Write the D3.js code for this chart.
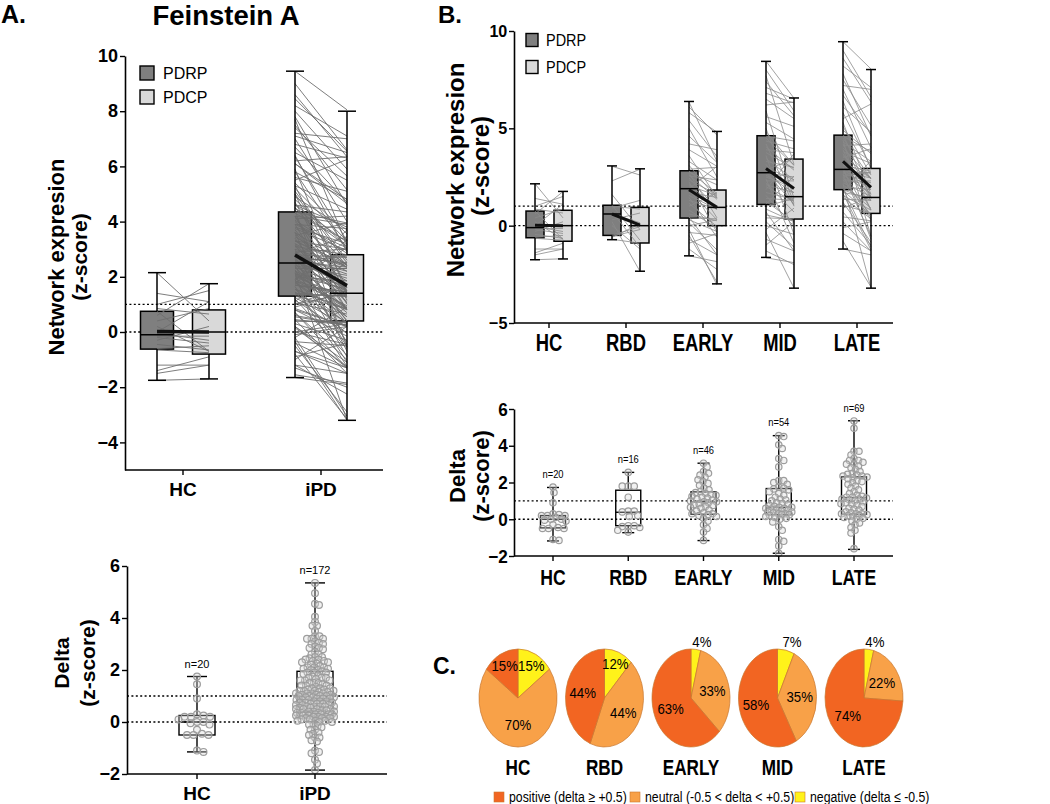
<!DOCTYPE html>
<html><head><meta charset="utf-8">
<script src="https://cdn.jsdelivr.net/npm/d3@7"></script>
<style>body{margin:0;background:#fff} svg{display:block} text{font-family:"Liberation Sans",Arial,sans-serif;fill:#000}</style>
</head><body><svg id="c" width="1050" height="804"></svg>
<script>
// ---------------- DATA ----------------
const groupsA = ["HC", "iPD"];
const groupsB = ["HC", "RBD", "EARLY", "MID", "LATE"];

// per-subject PDRP scores and delta (PDRP - PDCP)
const hcPDRP = [2.15,1.4,1.0,0.85,0.75,0.6,0.4,0.2,0.0,-0.05,-0.15,-0.2,-0.3,-0.45,-0.6,-0.65,-1.2,-1.4,-1.5,-1.75];
const hcDelta = [1.75,0.3,-0.5,0.2,1.45,-1.15,-0.45,0.9,-1.1,0.25,0.0,0.2,-0.5,0.2,-0.1,0.1,0.0,-0.5,-0.3,-0.05];
const rbdPDRP = [3.05,2.3,1.6,1.05,1.0,0.9,0.7,0.6,0.5,0.3,0.0,0.2,-0.5,-0.55,-0.6,-0.7];
const rbdDelta = [0.45,-0.6,1.8,1.8,0.15,-0.4,1.8,0.45,0.4,-0.35,1.2,2.55,-0.45,-0.35,-0.7,0.2];
const earlyPDRP = [-1.55,-1.2,-0.9,-0.7,-0.5,-0.35,-0.2,0.0,0.15,0.3,0.4,0.45,0.6,0.8,1.0,1.15,1.3,1.45,1.55,1.7,1.8,1.85,1.9,1.95,2.05,2.15,2.25,2.35,2.45,2.55,2.6,2.7,2.75,2.8,2.9,3.1,3.3,3.6,3.9,4.2,4.6,5.0,5.4,5.8,6.1,6.35];
const earlyDelta = [0.3,1.05,-0.5,0.8,2.4,0.15,2.85,-0.3,1.4,0.6,0.05,1.95,0.35,0.95,-0.7,1.2,0.45,2.05,0.7,0.25,1.5,0.9,-1.15,1.1,0.5,1.3,2.6,0.75,1.6,0.2,1.25,2.3,0.65,1.15,-0.1,1.7,0.95,2.15,0.85,0.3,1.35,2.5,1.85,1.0,1.45,3.05];
const midPDRP = [-1.65,-1.3,-1.0,-0.7,-0.35,-0.2,0.0,0.2,0.4,0.55,0.7,0.85,1.0,1.1,1.25,1.4,1.55,1.7,1.85,2.0,2.1,2.2,2.3,2.4,2.5,2.6,2.7,2.75,2.85,3.0,3.15,3.3,3.45,3.6,3.75,3.9,4.05,4.2,4.35,4.5,4.6,4.8,5.0,5.3,5.6,5.9,6.2,6.5,6.8,7.1,7.4,7.7,8.0,8.45];
const midDelta = [0.25,0.7,-1.2,0.6,2.85,-1.1,0.45,1.3,0.05,0.3,2.0,0.65,-0.4,-1.45,1.05,0.1,1.6,0.35,-1.85,0.75,0.4,1.5,0.0,3.3,0.55,0.9,0.2,1.65,-0.6,0.65,2.1,0.3,1.1,4.05,0.8,0.15,1.2,3.2,0.4,1.4,0.25,1.7,3.85,0.85,0.5,4.5,-0.15,1.0,0.5,0.6,1.75,4.55,2.1,1.9];
const latePDRP = [-1.2,-0.8,-0.4,-0.1,0.2,0.45,0.7,0.9,1.05,1.2,1.35,1.45,1.55,1.65,1.7,1.75,1.8,1.85,1.9,2.0,2.1,2.15,2.2,2.3,2.35,2.4,2.5,2.55,2.6,2.65,2.7,2.75,2.8,2.85,2.9,3.0,3.1,3.2,3.3,3.4,3.5,3.6,3.7,3.8,3.9,4.0,4.1,4.2,4.3,4.4,4.5,4.6,4.7,4.9,5.1,5.3,5.5,5.8,6.1,6.4,6.7,7.0,7.2,7.5,7.8,8.2,8.6,9.0,9.45];
const lateDelta = [0.3,2.35,0.9,-0.3,1.5,0.2,1.7,-0.6,0.4,2.05,0.05,1.1,0.75,2.9,0.25,-1.6,1.25,0.55,3.0,0.15,1.2,5.35,0.7,0.0,1.8,0.35,2.2,-0.2,0.95,3.2,0.5,0.3,0.1,2.45,1.05,3.7,0.3,1.9,0.85,2.6,-0.45,1.15,2.3,0.6,3.1,1.6,-0.1,2.7,1.0,4.95,2.1,0.8,3.3,1.2,2.5,3.7,-0.75,2.8,1.3,3.5,2.0,3.0,0.2,2.35,3.2,1.1,2.25,2.4,1.4];
const ipdExtraPDRP = [3.2,0.8,5.2];
const ipdExtraDelta = [1.0,0.6,1.9];

// box statistics [min, q1, median, q3, max]
const boxPDRP_A = {HC:[-1.75,-0.62,-0.1,0.75,2.15], iPD:[-1.65,1.3,2.5,4.35,9.45]};
const boxPDCP_A = {HC:[-1.7,-0.8,0.0,0.8,1.75], iPD:[-3.2,0.4,1.4,2.8,8.0]};
const meanA = {HC:[0.02,0.0], iPD:[2.79,1.68]};
const boxDelta_A = {HC:[-1.15,-0.5,0.0,0.25,1.75], iPD:[-1.85,0.25,0.85,1.95,5.35]};

const boxPDRP_B = {HC:[-1.75,-0.62,-0.1,0.75,2.15], RBD:[-0.72,-0.5,0.6,1.05,3.07], EARLY:[-1.55,0.39,1.9,2.82,6.38], MID:[-1.63,1.09,2.72,4.62,8.44], LATE:[-1.2,1.85,2.89,4.65,9.45]};
const boxPDCP_B = {HC:[-1.71,-0.8,0.0,0.79,1.76], RBD:[-2.34,-0.89,0.0,0.94,2.92], EARLY:[-2.99,0.0,0.94,1.83,4.84], MID:[-3.21,0.34,1.49,3.42,6.56], LATE:[-3.21,0.63,1.45,2.94,8.02]};
const meanB = {HC:[0.02,0.0], RBD:[0.6,0.03], EARLY:[1.85,0.94], MID:[2.94,1.91], LATE:[3.3,1.97]};
const boxDelta_B = {HC:[-1.18,-0.47,0.0,0.2,1.73], RBD:[-0.73,-0.35,0.38,1.58,2.55], EARLY:[-1.16,0.27,0.95,1.49,3.05], MID:[-1.85,0.25,0.65,1.67,4.55], LATE:[-1.64,0.27,1.18,2.31,5.36]};

// pie percentages (panel C)
const pieCats = ["HC","RBD","EARLY","MID","LATE"];
const pctNegative = [15,12,4,7,4];
const pctNeutral  = [70,44,33,35,22];
const pctPositive = [15,44,63,58,74];
const legendLabels = ["positive (delta \u2265 +0.5)","neutral (-0.5 < delta < +0.5)","negative (delta \u2264 -0.5)"];

const yTicksTop = [-4,-2,0,2,4,6,8,10];
const yTicksTopB = [-5,0,5,10];
const yTicksDelta = [-2,0,2,4,6];

// ---------------- assemble subjects ----------------
function subjects(pdrp, delta){ return pdrp.map((v,i)=>({pdrp:v, delta:delta[i], pdcp:+(v-delta[i]).toFixed(3)})); }
const subj = {
  HC: subjects(hcPDRP, hcDelta),
  RBD: subjects(rbdPDRP, rbdDelta),
  EARLY: subjects(earlyPDRP, earlyDelta),
  MID: subjects(midPDRP, midDelta),
  LATE: subjects(latePDRP, lateDelta)
};
subj.iPD = subj.EARLY.concat(subj.MID, subj.LATE, subjects(ipdExtraPDRP, ipdExtraDelta));

// ---------------- helpers ----------------
const svg = d3.select("#c");
const C_PDRP = "#7f7f7f", C_PDCP = "#d9d9d9";

function T(g, x, y, s, o={}){
  let tr = `translate(${x},${y})`;
  if (o.rot) tr += ` rotate(${o.rot})`;
  if (o.sx) tr += ` scale(${o.sx},1)`;
  return g.append("text").attr("transform", tr)
    .attr("text-anchor", o.anchor||"middle").attr("dominant-baseline", o.base||"central")
    .attr("font-size", o.size||14).attr("font-weight", o.bold?"bold":"normal").text(s);
}

function yAxis(g, y, x0, ticks, size, sx){
  const ax = g.append("g").attr("transform",`translate(${x0},0)`)
    .call(d3.axisLeft(y).tickValues(ticks).tickSize(5).tickPadding(2).tickSizeOuter(0));
  ax.select(".domain").attr("stroke","#000").attr("stroke-width",1.6);
  ax.selectAll(".tick line").attr("stroke","#000").attr("stroke-width",1.4);
  ax.selectAll(".tick text").attr("font-size",size).attr("font-weight","bold")
    .attr("font-family","'Liberation Sans',Arial,sans-serif").attr("fill","#000")
    .attr("transform", sx?`scale(${sx},1)`:null);
}
function xAxis(g, x, y0, x0, x1, cats, labelY, size, sx){
  g.append("line").attr("x1",x0).attr("x2",x1).attr("y1",y0).attr("y2",y0).attr("stroke","#000").attr("stroke-width",1.6);
  cats.forEach(c=>{
    g.append("line").attr("x1",x(c)).attr("x2",x(c)).attr("y1",y0).attr("y2",y0+5).attr("stroke","#000").attr("stroke-width",1.4);
    T(g, x(c), labelY, c, {size, bold:true, sx});
  });
}
function refLines(g, y, x0, x1){
  [0,1].forEach(v=>g.append("line").attr("x1",x0).attr("x2",x1).attr("y1",y(v)).attr("y2",y(v))
    .attr("stroke","#000").attr("stroke-width",1.3).attr("stroke-dasharray","2,2.4"));
}
function boxFill(g, cx, w, st, y, fill){
  g.append("rect").attr("x",cx-w/2).attr("width",w).attr("y",y(st[3])).attr("height",y(st[1])-y(st[3]))
    .attr("fill",fill).attr("stroke","#000").attr("stroke-width",1.5);
}
function boxRest(g, cx, w, capW, st, y, sw){
  const s = g.append("g").attr("stroke","#000").attr("stroke-width",sw||1.5);
  s.append("line").attr("x1",cx).attr("x2",cx).attr("y1",y(st[3])).attr("y2",y(st[4]));
  s.append("line").attr("x1",cx).attr("x2",cx).attr("y1",y(st[1])).attr("y2",y(st[0]));
  s.append("line").attr("x1",cx-capW/2).attr("x2",cx+capW/2).attr("y1",y(st[4])).attr("y2",y(st[4]));
  s.append("line").attr("x1",cx-capW/2).attr("x2",cx+capW/2).attr("y1",y(st[0])).attr("y2",y(st[0]));
  s.append("line").attr("x1",cx-w/2).attr("x2",cx+w/2).attr("y1",y(st[2])).attr("y2",y(st[2]));
}

function pairedPanel(p){
  const g = svg.append("g");
  refLines(g, p.y, p.ax0, p.ax1);
  p.cats.forEach(c=>{
    const xr = p.x(c)-p.off, xc = p.x(c)+p.off;
    boxFill(g, xr, p.boxW, p.sPDRP[c], p.y, C_PDRP);
    boxFill(g, xc, p.boxW, p.sPDCP[c], p.y, C_PDCP);
    g.append("g").selectAll("line").data(subj[c]).join("line")
      .attr("x1",xr).attr("x2",xc).attr("y1",d=>p.y(d.pdrp)).attr("y2",d=>p.y(d.pdcp))
      .attr("stroke",p.lineC).attr("stroke-width",p.lineW);
    boxRest(g, xr, p.boxW, p.capW, p.sPDRP[c], p.y);
    boxRest(g, xc, p.boxW, p.capW, p.sPDCP[c], p.y);
    g.append("line").attr("x1",xr).attr("x2",xc).attr("y1",p.y(p.mean[c][0])).attr("y2",p.y(p.mean[c][1]))
      .attr("stroke","#111").attr("stroke-width",p.meanW).attr("stroke-linecap","butt");
  });
  yAxis(g, p.y, p.ax0, p.ticks, p.tickSize, p.tickSx);
  xAxis(g, p.x, p.y.range()[0], p.ax0, p.ax1, p.cats, p.labelY, p.labelSize, p.labelSx);
  return g;
}

function swarm(values, y, dmin, maxHalf){
  const pts = values.map(v=>({v, y:y(v)})).sort((a,b)=>b.v-a.v);
  const placed = [];
  for (const p of pts){
    let chosen = null, bestOff = 0, bestScore = -1;
    for (let k=0; k<=maxHalf*4; k++){
      const off = (k%2===1?1:-1)*Math.ceil(k/2)*0.5;
      let mind = Infinity;
      for (const q of placed){
        const dy = q.y-p.y; if (Math.abs(dy) >= dmin) continue;
        mind = Math.min(mind, Math.hypot(q.x-off, dy));
      }
      if (mind >= dmin){ chosen = off; break; }
      if (mind > bestScore){ bestScore = mind; bestOff = off; }
    }
    p.x = chosen===null ? bestOff : chosen;
    placed.push(p);
  }
  return pts;
}

function deltaPanel(p){
  const g = svg.append("g");
  refLines(g, p.y, p.ax0, p.ax1);
  p.cats.forEach(c=>{
    const cx = p.x(c), st = p.stats[c];
    g.append("rect").attr("x",cx-p.boxW/2).attr("width",p.boxW).attr("y",p.y(st[3])).attr("height",p.y(st[1])-p.y(st[3]))
      .attr("fill","none").attr("stroke","#000").attr("stroke-width",1.4);
    boxRest(g, cx, p.boxW, p.capW, st, p.y, 1.4);
    const pts = swarm(subj[c].map(d=>d.delta), p.y, p.dmin[c]||p.dmin.def, p.maxHalf);
    g.append("g").selectAll("circle").data(pts).join("circle")
      .attr("cx",d=>cx+d.x).attr("cy",d=>d.y).attr("r",p.r)
      .attr("fill","rgba(215,215,215,0.35)").attr("stroke","#9d9d9d").attr("stroke-width",1.2);
    T(g, cx, p.y(st[4])-13, "n="+subj[c].length, {size:11, sx:p.nSx});
  });
  yAxis(g, p.y, p.ax0, yTicksDelta, p.tickSize, p.tickSx);
  xAxis(g, p.x, p.y.range()[0], p.ax0, p.ax1, p.cats, p.labelY, p.labelSize, p.labelSx);
}

// ---------------- PANEL A ----------------
T(svg, 1, 23, "A.", {size:25, bold:true, anchor:"start", base:"auto"});
T(svg, 226, 24.5, "Feinstein A", {size:27.5, bold:true, base:"auto"});

const xA = d3.scalePoint().domain(groupsA).range([183,321]);
const yA = d3.scaleLinear().domain([-5,10]).range([470,56]);
pairedPanel({x:xA, y:yA, cats:groupsA, ax0:125, ax1:383, off:26, boxW:33, capW:18,
  sPDRP:boxPDRP_A, sPDCP:boxPDCP_A, mean:meanA, lineC:"#6e6e6e", lineW:0.9, meanW:3.5,
  ticks:yTicksTop, tickSize:18, labelY:489, labelSize:19});
T(svg, 56, 257, "Network expresion", {size:22, bold:true, rot:-90});
T(svg, 79, 257, "(z-score)", {size:21, bold:true, rot:-90});
// legend A
[["PDRP",C_PDRP,73],["PDCP",C_PDCP,97]].forEach(([l,c,yy])=>{
  svg.append("rect").attr("x",140).attr("y",yy-7).attr("width",14).attr("height",14).attr("fill",c).attr("stroke","#000").attr("stroke-width",1.4);
  T(svg, 163, yy, l, {size:16, anchor:"start"});
});

const xAd = d3.scalePoint().domain(groupsA).range([197,315]);
const yAd = d3.scaleLinear().domain([-2,6]).range([774,566]);
deltaPanel({x:xAd, y:yAd, cats:groupsA, ax0:127, ax1:387, stats:boxDelta_A, boxW:36, capW:20,
  r:3.4, dmin:{def:6.2, iPD:4.2}, maxHalf:19, tickSize:18, labelY:793, labelSize:19});
T(svg, 61, 663, "Delta", {size:21, bold:true, rot:-90});
T(svg, 87, 663, "(z-score)", {size:21, bold:true, rot:-90});

// ---------------- PANEL B ----------------
T(svg, 438, 23, "B.", {size:24, bold:true, anchor:"start", base:"auto"});
const xB = d3.scalePoint().domain(groupsB).range([549,857]);
const yB = d3.scaleLinear().domain([-5,10]).range([323,31]);
pairedPanel({x:xB, y:yB, cats:groupsB, ax0:514, ax1:893, off:14, boxW:18, capW:10,
  sPDRP:boxPDRP_B, sPDCP:boxPDCP_B, mean:meanB, lineC:"#8a8a8a", lineW:0.8, meanW:3,
  ticks:yTicksTopB, tickSize:17, tickSx:0.95, labelY:343, labelSize:23, labelSx:0.8});
T(svg, 455, 170, "Network expresion", {size:24, bold:true, rot:-90});
T(svg, 480, 166, "(z-score)", {size:24, bold:true, rot:-90});
[["PDRP",C_PDRP,40],["PDCP",C_PDCP,67]].forEach(([l,c,yy])=>{
  svg.append("rect").attr("x",526).attr("y",yy-6.5).attr("width",12).attr("height",13).attr("fill",c).attr("stroke","#000").attr("stroke-width",1.4);
  T(svg, 546, yy, l, {size:17, anchor:"start", sx:0.85});
});

const xBd = d3.scalePoint().domain(groupsB).range([553,854]);
const yBd = d3.scaleLinear().domain([-2,6]).range([556,409]);
deltaPanel({x:xBd, y:yBd, cats:groupsB, ax0:514, ax1:893, stats:boxDelta_B, boxW:25, capW:12,
  r:3.2, dmin:{def:5.6, LATE:4.6, MID:5.0, EARLY:5.0}, maxHalf:13, tickSize:19, tickSx:0.9, labelY:577, labelSize:22, labelSx:0.8, nSx:0.85});
T(svg, 457, 476, "Delta", {size:22, bold:true, rot:-90});
T(svg, 481, 476, "(z-score)", {size:22, bold:true, rot:-90});

// ---------------- PANEL C ----------------
T(svg, 433, 666, "C.", {size:23, bold:true, anchor:"start"});
const colC = {positive:"#F26522", neutral:"#F8A148", negative:"#FFF21A"};
const xC = d3.scalePoint().domain(pieCats).range([518,864]);
const rx = 39, ry = 49, cyPie = 698;
const pie = d3.pie().sort(null).value(d=>d.v);
const arc = d3.arc().innerRadius(0).outerRadius(ry);
pieCats.forEach((c,i)=>{
  const data = [{k:"negative",v:pctNegative[i]},{k:"neutral",v:pctNeutral[i]},{k:"positive",v:pctPositive[i]}];
  const arcs = pie(data);
  const gp = svg.append("g").attr("transform",`translate(${xC(c)},${cyPie}) scale(${rx/ry},1)`);
  gp.selectAll("path").data(arcs).join("path").attr("d",arc).attr("fill",d=>colC[d.data.k])
    .attr("stroke","#c9772f").attr("stroke-width",0.8);
  arcs.forEach(a=>{
    const m = (a.startAngle+a.endAngle)/2;
    let lx, ly;
    if (a.data.v < 10){ lx = xC(c)+Math.sin(m)*rx+6; ly = cyPie-ry-7; }
    else {
      const k = a.data.v < 20 ? 0.75 : 0.57;
      lx = xC(c)+Math.sin(m)*rx*k; ly = cyPie-Math.cos(m)*ry*k*(a.data.v<20?1:0.95);
    }
    T(svg, lx, ly, a.data.v+"%", {size:15, sx:0.88});
  });
  T(svg, xC(c), 767, c, {size:22, bold:true, sx:0.78});
});
// legend C
const legX = [494, 630, 795];
["positive","neutral","negative"].forEach((k,i)=>{
  svg.append("rect").attr("x",legX[i]).attr("y",792).attr("width",10).attr("height",10).attr("fill",colC[k]).attr("stroke","#c9772f").attr("stroke-width",0.6);
  T(svg, legX[i]+15, 797, legendLabels[i], {size:15, anchor:"start", sx:0.82});
});
</script></body></html>
